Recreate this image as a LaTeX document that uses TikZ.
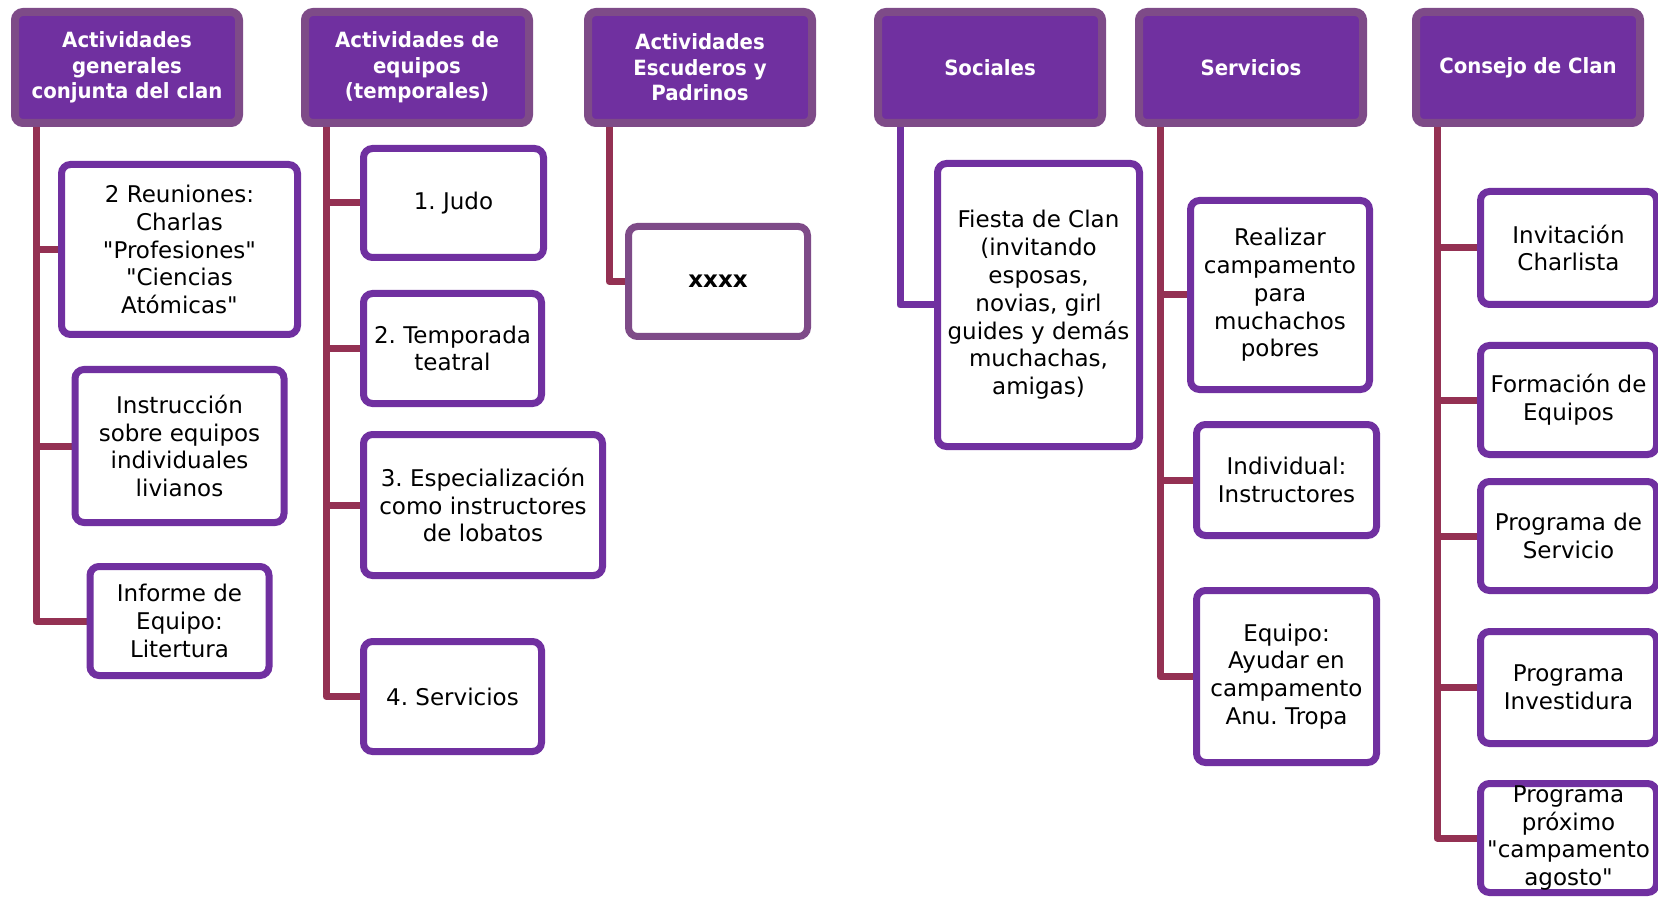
\documentclass[tikz,border=0pt]{standalone}
\usepackage{fontspec}
\setmainfont{DejaVu Sans}
\newfontfamily\headfont[FakeStretch=0.94]{DejaVu Sans}
\usepackage{tikz}
\usetikzlibrary{positioning, backgrounds}
\definecolor{clanpurple}{HTML}{7030A0}
\definecolor{clanedge}{HTML}{7E4B88}
\definecolor{clanwine}{HTML}{943153}
\frenchspacing

\begin{document}
\begin{tikzpicture}[x=0.5pt, y=-0.5pt,
    header/.style={draw=clanedge, fill=clanpurple, line width=4pt, rounded corners=4pt,
      minimum width=112pt, minimum height=55.5pt, inner sep=2pt, align=center,
      text=white, font=\headfont\bfseries\fontsize{10.5}{12.7}\selectfont},
    item/.style={draw=clanpurple, fill=white, line width=3.5pt, rounded corners=4.5pt,
      inner sep=2pt, align=center, font=\fontsize{11.5}{13.9}\selectfont},
    link/.style={draw=clanwine, line width=3.5pt, line join=round},
  ]
  \useasboundingbox (0,0) rectangle (1658,898);

  \node[header, anchor=north west] (h1) at (11,8) {Actividades\\generales\\conjunta del clan};
  \node[header, right=29pt of h1] (h2) {Actividades de\\equipos\\(temporales)};
  \node[header, right=25.5pt of h2] (h3) {Actividades\\Escuderos y\\Padrinos};
  \node[header, right=29pt of h3] (h4) {Sociales};
  \node[header, right=14.5pt of h4] (h5) {Servicios};
  \node[header, right=22.5pt of h5] (h6) {Consejo de Clan};

  \node[item, minimum width=118pt, minimum height=85pt, below right=17pt and 23.5pt of h1.south west] (g1) {2 Reuniones:\\Charlas\\\textquotedbl Profesiones\textquotedbl\\\textquotedbl Ciencias\\Atómicas\textquotedbl};
  \node[item, minimum width=104.5pt, minimum height=76.5pt, below=14pt of g1] (g2) {Instrucción\\sobre equipos\\individuales\\livianos};
  \node[item, minimum width=89.5pt, minimum height=54.5pt, below=18.5pt of g2] (g3) {Informe de\\Equipo:\\Litertura};

  \node[item, minimum width=90pt, minimum height=54.5pt, below right=9pt and 29.5pt of h2.south west] (e1) {1. Judo};
  \node[item, minimum width=89pt, minimum height=55pt, below right=14.5pt and 0pt of e1.south west] (e2) {2. Temporada\\teatral};
  \node[item, minimum width=119.5pt, minimum height=70.5pt, below right=12pt and 0pt of e2.south west] (e3) {3. Especialización\\como instructores\\de lobatos};
  \node[item, minimum width=89pt, minimum height=55pt, below right=29.5pt and 0pt of e3.south west] (e4) {4. Servicios};

  \node[item, draw=clanedge, minimum width=89.5pt, minimum height=55pt, font=\bfseries\fontsize{11.5}{13.9}\selectfont, below right=48pt and 20.5pt of h3.south west] (p1) {xxxx};

  \node[item, minimum width=101pt, minimum height=141.5pt, below right=16.5pt and 30pt of h4.south west] (s1) {Fiesta de Clan\\(invitando\\esposas,\\novias, girl\\guides y demás\\muchachas,\\amigas)};

  \node[item, minimum width=89.5pt, minimum height=94.5pt, below right=35pt and 26pt of h5.south west] (v1) {Realizar\\campamento\\para\\muchachos\\pobres};
  \node[item, minimum width=90pt, minimum height=55.5pt, below right=14pt and 3pt of v1.south west] (v2) {Individual:\\Instructores};
  \node[item, minimum width=90pt, minimum height=86pt, below right=24pt and 0pt of v2.south west] (v3) {Equipo:\\Ayudar en\\campamento\\Anu. Tropa};

  \node[item, minimum width=88pt, minimum height=56.5pt, below right=30.5pt and 32.5pt of h6.south west] (k1) {Invitación\\Charlista};
  \node[item, minimum width=88pt, minimum height=54.5pt, below right=17pt and 0pt of k1.south west] (k2) {Formación de\\Equipos};
  \node[item, minimum width=88pt, minimum height=54.5pt, below right=10pt and 0pt of k2.south west] (k3) {Programa de\\Servicio};
  \node[item, minimum width=88pt, minimum height=56pt, below right=17pt and 0pt of k3.south west] (k4) {Programa\\Investidura};
  \node[item, minimum width=88pt, minimum height=54.5pt, inner sep=0pt, below right=16.5pt and 0pt of k4.south west] (k5) {Programa\\próximo\\\textquotedbl campamento\\agosto\textquotedbl};

  \begin{scope}[on background layer]
    \foreach \h/\c in {h1/g1, h1/g2, h1/g3, h2/e1, h2/e2, h2/e3, h2/e4, h3/p1,
                       h5/v1, h5/v2, h5/v3, h6/k1, h6/k2, h6/k3, h6/k4, h6/k5}
      \draw[link] ([xshift=12.5pt]\h.south west) |- (\c.west);
    \draw[link, draw=clanpurple] ([xshift=13pt]h4.south west) |- (s1.west);
  \end{scope}
\end{tikzpicture}
\end{document}
